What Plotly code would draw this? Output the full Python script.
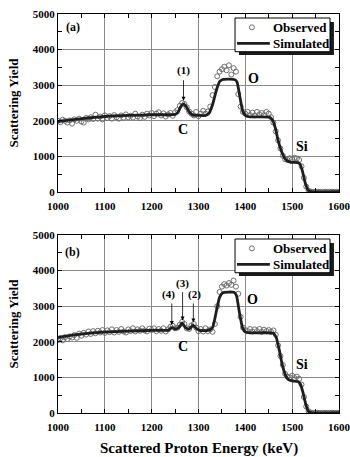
import plotly.graph_objects as go
from plotly.subplots import make_subplots

# ---------------- data ----------------
obs_x = list(range(1000, 1605, 5))

obs_a = [2000, 1960, 2030, 2000, 1950, 2010, 1920, 2040, 2000, 2060,
         1980, 1950, 2080, 2040, 2100, 2050, 2170, 2060, 2120, 2040,
         2150, 2080, 2130, 2060, 2160, 2100, 2060, 2150, 2090, 2180,
         2100, 2140, 2090, 2200, 2120, 2080, 2170, 2110, 2200, 2150,
         2220, 2130, 2200, 2240, 2150, 2210, 2120, 2180, 2220, 2140,
         2240, 2300, 2420, 2500, 2470, 2380, 2260, 2200, 2150, 2250,
         2130, 2200, 2280, 2200, 2260, 2400, 2720, 2950, 3250, 3380,
         3450, 3520, 3420, 3560, 3300, 3480, 3380, 2750, 2400, 2250,
         2200, 2250, 2160, 2230, 2150, 2250, 2180, 2220, 2160, 2250,
         2200, 2100, 1950, 1700, 1450, 1220, 1020, 920, 900, 950,
         920, 960, 940, 900, 720, 400, 150, 40, 10, 5,
         5, 5, 5, 5, 5, 5, 5, 5, 5, 5, 5]

obs_b = [2050, 2100, 2040, 2130, 2080, 2150, 2120, 2190, 2110, 2230,
         2170, 2250, 2200, 2290, 2220, 2300, 2240, 2310, 2260, 2330,
         2250, 2320, 2270, 2350, 2260, 2330, 2280, 2360, 2290, 2260,
         2350, 2300, 2380, 2290, 2350, 2310, 2380, 2320, 2290, 2370,
         2330, 2380, 2300, 2360, 2310, 2380, 2290, 2350, 2420, 2450,
         2380, 2400, 2480, 2560, 2500, 2380, 2360, 2460, 2500, 2400,
         2300, 2360, 2290, 2380, 2300, 2350, 2280, 2500, 3000, 3400,
         3550, 3620, 3580, 3650, 3600, 3720, 3550, 3350, 2700, 2400,
         2330, 2300, 2360, 2290, 2350, 2300, 2360, 2280, 2340, 2300,
         2330, 2280, 2320, 2200, 1900, 1600, 1350, 1100, 1020, 1000,
         1050, 980, 1020, 960, 800, 450, 180, 50, 10, 5,
         5, 5, 5, 5, 5, 5, 5, 5, 5, 5, 5]

sim_a_x = [1000, 1050, 1100, 1150, 1200, 1250, 1256, 1262, 1268, 1274, 1280, 1288,
           1300, 1315, 1322, 1330, 1338, 1345, 1352, 1376, 1382, 1388, 1395, 1402,
           1410, 1452, 1458, 1464, 1470, 1477, 1484, 1490, 1497, 1512, 1517, 1522,
           1528, 1534, 1540, 1600]
sim_a_y = [1980, 2060, 2120, 2150, 2170, 2180, 2230, 2400, 2470, 2400, 2250, 2160,
           2150, 2150, 2200, 2450, 2850, 3100, 3160, 3160, 3100, 2700, 2250, 2130,
           2110, 2100, 2020, 1800, 1450, 1150, 950, 870, 835, 825, 780, 580,
           250, 50, 10, 10]

sim_b_x = [1000, 1050, 1100, 1150, 1200, 1236, 1243, 1250, 1258, 1265, 1272, 1280,
           1288, 1295, 1302, 1320, 1330, 1338, 1345, 1352, 1376, 1381, 1387, 1394,
           1401, 1410, 1460, 1466, 1472, 1479, 1486, 1492, 1500, 1513, 1518, 1523,
           1529, 1535, 1540, 1600]
sim_b_y = [2120, 2220, 2270, 2300, 2320, 2330, 2400, 2360, 2400, 2530, 2400, 2360,
           2470, 2380, 2320, 2320, 2400, 2850, 3250, 3380, 3390, 3300, 2850, 2400,
           2270, 2250, 2240, 2120, 1800, 1350, 1050, 940, 905, 880, 800, 580,
           250, 40, 10, 10]

x_ticks = [1000, 1100, 1200, 1300, 1400, 1500, 1600]
y_ticks = [0, 1000, 2000, 3000, 4000, 5000]
legend_labels = ["Observed", "Simulated"]

FONT = "Liberation Serif"
MARK_COLOR = "#6e6e6e"
LINE_COLOR = "#1e1e1e"

def bf(size):
    return dict(family=FONT, size=size, color="black", weight="bold")

fig = make_subplots(rows=2, cols=1, vertical_spacing=0.1)

for row, (oy, sx, sy) in enumerate(
        [(obs_a, sim_a_x, sim_a_y), (obs_b, sim_b_x, sim_b_y)], start=1):
    fig.add_trace(go.Scatter(
        x=obs_x, y=oy, mode="markers", name=legend_labels[0], showlegend=False,
        marker=dict(symbol="circle-open", size=5, color=MARK_COLOR, line=dict(width=1))),
        row=row, col=1)
    fig.add_trace(go.Scatter(
        x=sx, y=sy, mode="lines", name=legend_labels[1], showlegend=False,
        line=dict(color=LINE_COLOR, width=2.8, shape="spline", smoothing=0.5)),
        row=row, col=1)

axis_common = dict(showline=True, linecolor="black", linewidth=1, mirror="allticks",
                   ticks="inside", ticklen=4, tickcolor="black", automargin=False,
                   showgrid=True, gridcolor="#8a8a8a", gridwidth=0.8, zeroline=False,
                   tickfont=bf(11))

for r in (1, 2):
    fig.update_xaxes(range=[1000, 1600], tickvals=x_ticks, ticktext=[str(v) for v in x_ticks],
                     ticklabelstandoff=4, ticklabeloverflow="allow",
                     minor=dict(dtick=50, ticks="inside", ticklen=4, tickcolor="black", showgrid=False),
                     row=r, col=1, **axis_common)
    fig.update_yaxes(range=[0, 5000], tickvals=y_ticks, ticktext=[str(v) for v in y_ticks],
                     minor=dict(dtick=500, ticks="inside", ticklen=4, tickcolor="black", showgrid=False),
                     title=dict(text="Scattering Yield", font=bf(13), standoff=11),
                     row=r, col=1, **axis_common)

fig.update_layout(
    width=350, height=457,
    margin=dict(l=58, r=11, t=14, b=44),
    paper_bgcolor="white", plot_bgcolor="white",
    font=dict(family=FONT, color="black"),
    showlegend=False,
    yaxis=dict(domain=[0.5539, 1.0]),
    yaxis2=dict(domain=[0.0, 0.4461]),
)

# x-axis title (placed below the lower panel)
fig.add_annotation(x=0.5, y=-0.0902, xref="paper", yref="paper",
                   text="Scattered Proton Energy (keV)", showarrow=False,
                   xanchor="center", yanchor="middle", font=bf(15))

# ---- legend boxes (drawn per panel, relative to the subplot domain) ----
for xa, ya in (("x", "y"), ("x2", "y2")):
    xd, yd = xa + " domain", ya + " domain"
    # shadow
    fig.add_shape(type="rect", xref=xd, yref=yd, x0=0.644, x1=0.982, y0=0.770, y1=0.955,
                  fillcolor="#1a1a1a", line=dict(width=0), layer="above")
    # box
    fig.add_shape(type="rect", xref=xd, yref=yd, x0=0.630, x1=0.968, y0=0.788, y1=0.9775,
                  fillcolor="white", line=dict(color="black", width=1), layer="above")
    # observed symbol
    fig.add_shape(type="circle", xref=xd, yref=yd, xsizemode="pixel", ysizemode="pixel",
                  xanchor=0.690, yanchor=0.925, x0=-2.5, x1=2.5, y0=-2.5, y1=2.5,
                  line=dict(color=MARK_COLOR, width=1), fillcolor="white", layer="above")
    # simulated symbol
    fig.add_shape(type="line", xref=xd, yref=yd, x0=0.637, x1=0.754, y0=0.835, y1=0.835,
                  line=dict(color=LINE_COLOR, width=2.8), layer="above")
    fig.add_annotation(x=0.758, y=0.925, xref=xd, yref=yd, text=legend_labels[0],
                       showarrow=False, xanchor="left", yanchor="middle", font=bf(13))
    fig.add_annotation(x=0.758, y=0.835, xref=xd, yref=yd, text=legend_labels[1],
                       showarrow=False, xanchor="left", yanchor="middle", font=bf(13))

def txt(x, y, s, xr, yr, size=12):
    fig.add_annotation(x=x, y=y, xref=xr, yref=yr, text=s, showarrow=False, font=bf(size))

def arrow(x, y_head, y_tail, xr, yr):
    fig.add_annotation(x=x, y=y_head, ax=x, ay=y_tail, xref=xr, yref=yr, axref=xr, ayref=yr,
                       text="", showarrow=True, arrowhead=2, arrowsize=1, arrowwidth=0.8,
                       arrowcolor="black")

# panel (a)
txt(1032, 4630, "(a)", "x", "y", 12)
txt(1268, 3400, "(1)", "x", "y", 11)
arrow(1268, 2560, 3180, "x", "y")
txt(1418, 3180, "O", "x", "y", 14)
txt(1266, 1750, "C", "x", "y", 14)
txt(1520, 1280, "Si", "x", "y", 14)

# panel (b)
txt(1032, 4520, "(b)", "x2", "y2", 12)
txt(1236, 3330, "(4)", "x2", "y2", 11)
txt(1266, 3650, "(3)", "x2", "y2", 11)
txt(1291, 3330, "(2)", "x2", "y2", 11)
arrow(1243, 2470, 3120, "x2", "y2")
arrow(1266, 2600, 3440, "x2", "y2")
arrow(1289, 2540, 3120, "x2", "y2")
txt(1416, 3200, "O", "x2", "y2", 14)
txt(1266, 1870, "C", "x2", "y2", 14)
txt(1520, 1370, "Si", "x2", "y2", 14)

fig.write_html("out.html")
